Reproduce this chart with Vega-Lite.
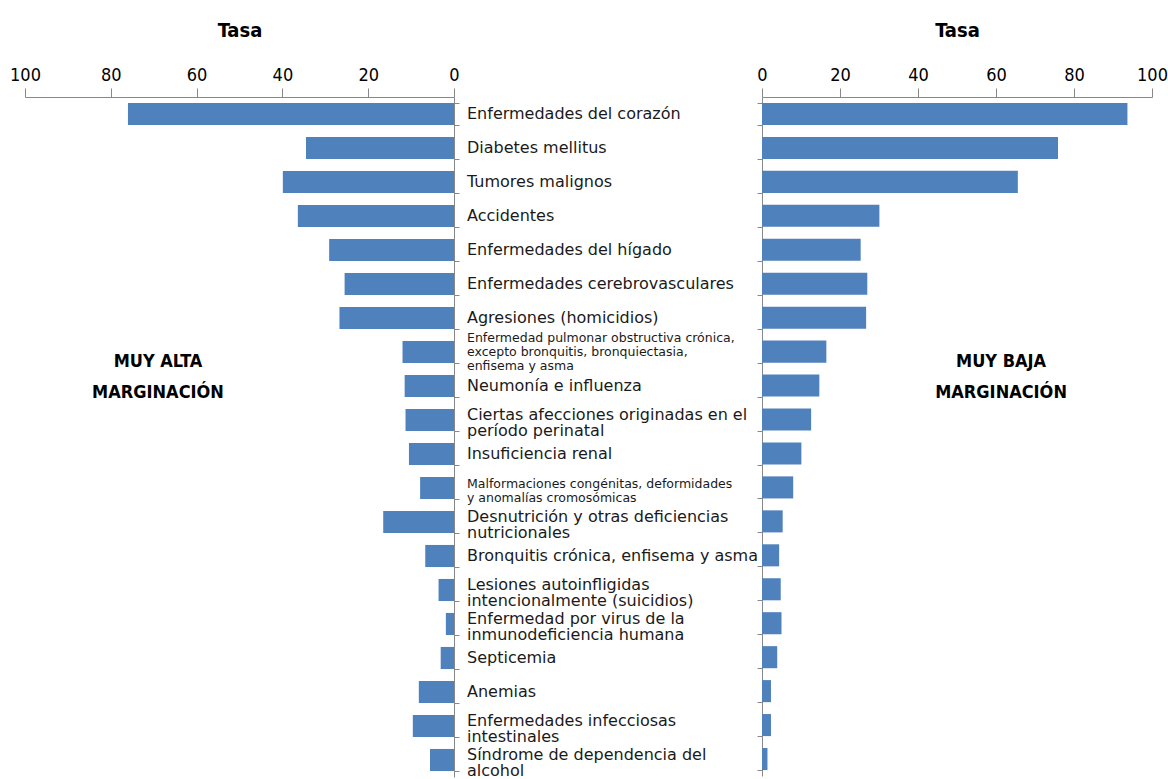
{
  "$schema": "https://vega.github.io/schema/vega-lite/v6.json",
  "background": "white",
  "padding": {"left": 9, "top": 20, "right": 5, "bottom": 0},
  "spacing": 308,
  "bounds": "flush",
  "config": {"view": {"stroke": null}},
  "resolve": {"scale": {"x": "independent", "y": "independent"}},
  "data": {"values": [
    {"cat": "Enfermedades del corazón", "alta": 76.0, "baja": 93.7},
    {"cat": "Diabetes mellitus", "alta": 34.5, "baja": 75.9},
    {"cat": "Tumores malignos", "alta": 39.9, "baja": 65.6},
    {"cat": "Accidentes", "alta": 36.4, "baja": 30.1},
    {"cat": "Enfermedades del hígado", "alta": 29.1, "baja": 25.3},
    {"cat": "Enfermedades cerebrovasculares", "alta": 25.5, "baja": 27.0},
    {"cat": "Agresiones (homicidios)", "alta": 26.7, "baja": 26.7},
    {"cat": "Enfermedad pulmonar obstructiva crónica,|excepto bronquitis, bronquiectasia,|enfisema y asma", "alta": 12.0, "baja": 16.5},
    {"cat": "Neumonía e influenza", "alta": 11.5, "baja": 14.7},
    {"cat": "Ciertas afecciones originadas en el|período perinatal", "alta": 11.3, "baja": 12.6},
    {"cat": "Insuficiencia renal", "alta": 10.5, "baja": 10.1},
    {"cat": "Malformaciones congénitas, deformidades|y anomalías cromosómicas", "alta": 7.9, "baja": 8.0},
    {"cat": "Desnutrición y otras deficiencias|nutricionales", "alta": 16.5, "baja": 5.3},
    {"cat": "Bronquitis crónica, enfisema y asma", "alta": 6.7, "baja": 4.4},
    {"cat": "Lesiones autoinfligidas|intencionalmente (suicidios)", "alta": 3.6, "baja": 4.8},
    {"cat": "Enfermedad por virus de la|inmunodeficiencia humana", "alta": 1.9, "baja": 5.0},
    {"cat": "Septicemia", "alta": 3.1, "baja": 3.9},
    {"cat": "Anemias", "alta": 8.2, "baja": 2.3},
    {"cat": "Enfermedades infecciosas|intestinales", "alta": 9.6, "baja": 2.3},
    {"cat": "Síndrome de dependencia del|alcohol", "alta": 5.6, "baja": 1.4}
  ]},
  "hconcat": [
    {
      "width": 429,
      "height": 680,
      "layer": [
        {
          "mark": {"type": "bar", "color": "#4F81BD"},
          "encoding": {
            "x": {
              "field": "alta", "type": "quantitative",
              "scale": {"domain": [0, 100], "reverse": true, "nice": false},
              "axis": {
                "orient": "top", "values": [0, 20, 40, 60, 80, 100], "grid": false,
                "title": "Tasa", "titleFont": "'DejaVu Sans Condensed', 'Liberation Sans', sans-serif", "titleFontWeight": "bold",
                "titleFontSize": 20, "titleColor": "#000", "titlePadding": 26,
                "labelFont": "'DejaVu Sans Condensed', 'Liberation Sans', sans-serif", "labelFontSize": 18, "labelColor": "#000",
                "labelPadding": 4, "tickSize": 9, "tickColor": "#888", "domainColor": "#888",
                "labelFlush": false, "labelOverlap": false
              }
            },
            "y": {
              "field": "cat", "type": "nominal",
              "scale": {
                "domain": ["Enfermedades del corazón", "Diabetes mellitus", "Tumores malignos", "Accidentes", "Enfermedades del hígado", "Enfermedades cerebrovasculares", "Agresiones (homicidios)", "Enfermedad pulmonar obstructiva crónica,|excepto bronquitis, bronquiectasia,|enfisema y asma", "Neumonía e influenza", "Ciertas afecciones originadas en el|período perinatal", "Insuficiencia renal", "Malformaciones congénitas, deformidades|y anomalías cromosómicas", "Desnutrición y otras deficiencias|nutricionales", "Bronquitis crónica, enfisema y asma", "Lesiones autoinfligidas|intencionalmente (suicidios)", "Enfermedad por virus de la|inmunodeficiencia humana", "Septicemia", "Anemias", "Enfermedades infecciosas|intestinales", "Síndrome de dependencia del|alcohol"],
                "paddingInner": 0.35, "paddingOuter": 0.175
              },
              "axis": {
                "orient": "right", "title": null, "labels": false, "tickBand": "extent",
                "tickSize": 5, "tickColor": "#888", "domainColor": "#888"
              }
            }
          }
        },
        {
          "transform": [{"filter": "indexof(datum.cat, '|') < 0"}],
          "mark": {"type": "text", "align": "left", "baseline": "middle", "dx": 13, "font": "DejaVu Sans", "fontSize": 16, "color": "#1a1a1a"},
          "encoding": {
            "x": {"datum": 0},
            "y": {"field": "cat", "type": "nominal"},
            "text": {"field": "cat"}
          }
        },
        {
          "transform": [{"filter": "indexof(datum.cat, '|') >= 0 && indexof(datum.cat, 'pulmonar') < 0 && indexof(datum.cat, 'Malformaciones') < 0"}],
          "mark": {"type": "text", "align": "left", "baseline": "middle", "dx": 13, "dy": -5.5, "lineBreak": "|", "lineHeight": 16.7, "font": "DejaVu Sans", "fontSize": 16, "color": "#1a1a1a"},
          "encoding": {
            "x": {"datum": 0},
            "y": {"field": "cat", "type": "nominal"},
            "text": {"field": "cat"}
          }
        },
        {
          "transform": [{"filter": "indexof(datum.cat, 'Malformaciones') >= 0"}],
          "mark": {"type": "text", "align": "left", "baseline": "middle", "dx": 13, "dy": -4, "lineBreak": "|", "lineHeight": 14, "font": "DejaVu Sans", "fontSize": 12.5, "color": "#1a1a1a"},
          "encoding": {
            "x": {"datum": 0},
            "y": {"field": "cat", "type": "nominal"},
            "text": {"field": "cat"}
          }
        },
        {
          "transform": [{"filter": "indexof(datum.cat, 'pulmonar') >= 0"}],
          "mark": {"type": "text", "align": "left", "baseline": "middle", "dx": 13, "dy": -14, "lineBreak": "|", "lineHeight": 14, "font": "DejaVu Sans", "fontSize": 12.5, "color": "#1a1a1a"},
          "encoding": {
            "x": {"datum": 0},
            "y": {"field": "cat", "type": "nominal"},
            "text": {"field": "cat"}
          }
        },
        {
          "transform": [{"filter": "datum.cat == 'Neumonía e influenza'"}],
          "mark": {"type": "text", "font": "'DejaVu Sans Condensed', 'Liberation Sans', sans-serif", "fontWeight": "bold", "fontSize": 18, "lineHeight": 31, "align": "center", "baseline": "middle", "dy": -24, "color": "#000"},
          "encoding": {
            "x": {"datum": 69},
            "y": {"field": "cat", "type": "nominal"},
            "text": {"value": ["MUY ALTA", "MARGINACIÓN"]}
          }
        }
      ]
    },
    {
      "width": 390,
      "height": 679,
      "layer": [
        {
          "mark": {"type": "bar", "color": "#4F81BD"},
          "encoding": {
            "x": {
              "field": "baja", "type": "quantitative",
              "scale": {"domain": [0, 100], "nice": false},
              "axis": {
                "orient": "top", "values": [0, 20, 40, 60, 80, 100], "grid": false,
                "title": "Tasa", "titleFont": "'DejaVu Sans Condensed', 'Liberation Sans', sans-serif", "titleFontWeight": "bold",
                "titleFontSize": 20, "titleColor": "#000", "titlePadding": 26,
                "labelFont": "'DejaVu Sans Condensed', 'Liberation Sans', sans-serif", "labelFontSize": 18, "labelColor": "#000",
                "labelPadding": 4, "tickSize": 9, "tickColor": "#888", "domainColor": "#888",
                "labelFlush": false, "labelOverlap": false
              }
            },
            "y": {
              "field": "cat", "type": "nominal",
              "scale": {
                "domain": ["Enfermedades del corazón", "Diabetes mellitus", "Tumores malignos", "Accidentes", "Enfermedades del hígado", "Enfermedades cerebrovasculares", "Agresiones (homicidios)", "Enfermedad pulmonar obstructiva crónica,|excepto bronquitis, bronquiectasia,|enfisema y asma", "Neumonía e influenza", "Ciertas afecciones originadas en el|período perinatal", "Insuficiencia renal", "Malformaciones congénitas, deformidades|y anomalías cromosómicas", "Desnutrición y otras deficiencias|nutricionales", "Bronquitis crónica, enfisema y asma", "Lesiones autoinfligidas|intencionalmente (suicidios)", "Enfermedad por virus de la|inmunodeficiencia humana", "Septicemia", "Anemias", "Enfermedades infecciosas|intestinales", "Síndrome de dependencia del|alcohol"],
                "paddingInner": 0.35, "paddingOuter": 0.175
              },
              "axis": {
                "orient": "left", "title": null, "labels": false, "tickBand": "extent",
                "tickSize": 5, "tickColor": "#888", "domainColor": "#888"
              }
            }
          }
        },
        {
          "transform": [{"filter": "datum.cat == 'Neumonía e influenza'"}],
          "mark": {"type": "text", "font": "'DejaVu Sans Condensed', 'Liberation Sans', sans-serif", "fontWeight": "bold", "fontSize": 18, "lineHeight": 31, "align": "center", "baseline": "middle", "dy": -24, "color": "#000"},
          "encoding": {
            "x": {"datum": 61.3},
            "y": {"field": "cat", "type": "nominal"},
            "text": {"value": ["MUY BAJA", "MARGINACIÓN"]}
          }
        }
      ]
    }
  ]
}
